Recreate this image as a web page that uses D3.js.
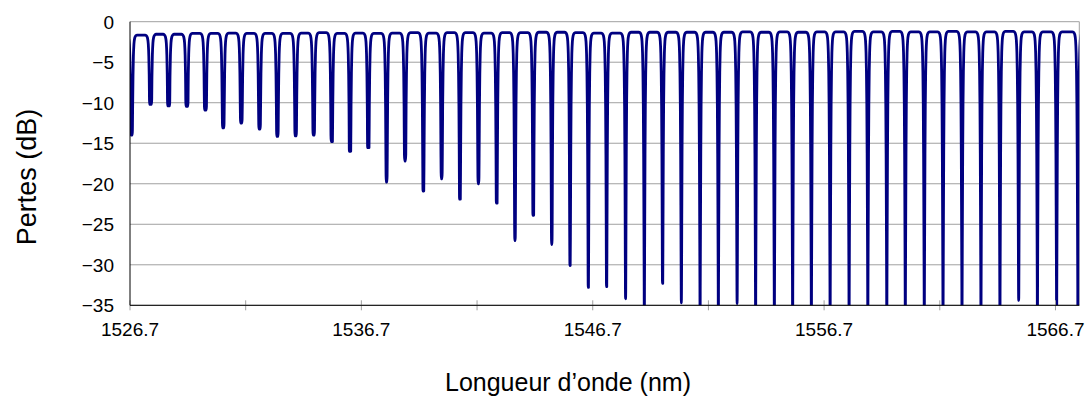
<!DOCTYPE html>
<html>
<head>
<meta charset="utf-8">
<script src="https://cdn.jsdelivr.net/npm/d3@7/dist/d3.min.js"></script>
<style>
  body { margin: 0; background: #fff; }
  svg { display: block; }
  text { font-family: Arial, "Liberation Sans", sans-serif; fill: #000; }
</style>
</head>
<body>
<svg id="chart" width="1088" height="397"></svg>
<script>
// Notch centre wavelengths (nm) of the comb filter
const notchCenters = [
  1526.77, 1527.59, 1528.37, 1529.16, 1529.96, 1530.73, 1531.51, 1532.30, 1533.07, 1533.86,
  1534.64, 1535.42, 1536.21, 1537.00, 1537.79, 1538.59, 1539.38, 1540.17, 1540.96, 1541.76,
  1542.55, 1543.34, 1544.13, 1544.93, 1545.72, 1546.51, 1547.30, 1548.12, 1548.93, 1549.72,
  1550.53, 1551.34, 1552.13, 1552.94, 1553.74, 1554.55, 1555.34, 1556.15, 1556.96, 1557.78,
  1558.59, 1559.41, 1560.21, 1561.03, 1561.84, 1562.66, 1563.48, 1564.30, 1565.11, 1565.92,
  1566.75, 1567.67
];
// Loss at the bottom of each notch (dB); notches deeper than the axis floor run past -35
const notchDepths = [
  -14.0, -10.2, -10.4, -10.45, -10.9, -13.1, -12.5, -13.25, -14.15, -14.1,
  -14.0, -14.8, -16.0, -15.55, -19.8, -17.2, -20.9, -19.4, -21.9, -20.0,
  -22.4, -27.0, -23.9, -27.5, -30.1, -32.8, -32.7, -34.2, -40.0, -32.3,
  -34.7, -40.0, -40.0, -34.8, -40.0, -40.0, -40.0, -40.0, -40.0, -40.0,
  -40.0, -40.0, -40.0, -40.0, -40.0, -40.0, -40.0, -40.0, -34.4, -40.0,
  -40.0, -40.0
];
// Pass-band loss between neighbouring notches (dB), one more than the notches
const passbandLevels = [
  -1.7, -1.65, -1.55, -1.55, -1.45, -1.45, -1.4, -1.45, -1.45, -1.45,
  -1.4, -1.35, -1.45, -1.4, -1.45, -1.4, -1.35, -1.4, -1.35, -1.35,
  -1.4, -1.35, -1.35, -1.3, -1.3, -1.35, -1.4, -1.4, -1.3, -1.3,
  -1.3, -1.3, -1.3, -1.3, -1.25, -1.3, -1.25, -1.3, -1.25, -1.25,
  -1.2, -1.25, -1.2, -1.25, -1.25, -1.2, -1.25, -1.25, -1.2, -1.25,
  -1.25, -1.25, -1.3
];
// Notch wall: distance from centre (nm) and extra loss below the pass band (dB)
const notchProfile = [
  [0.24, 0], [0.18, 0.08], [0.135, 0.35], [0.1, 1.1], [0.077, 2.6],
  [0.06, 5], [0.044, 9], [0.03, 15], [0.017, 24], [0.006, 32]
];

const xDomain = [1526.7, 1567.73];
const yDomain = [-35, 0];
const xTicks = [1526.7, 1531.7, 1536.7, 1541.7, 1546.7, 1551.7, 1556.7, 1561.7, 1566.7];
const xTickLabels = ["1526.7", "1536.7", "1546.7", "1556.7", "1566.7"];
const yTicks = [0, -5, -10, -15, -20, -25, -30, -35];

const margin = { left: 130, right: 8.7, top: 21.7, bottom: 91.7 };
const W = 1088, H = 397;
const svg = d3.select("#chart");

const x = d3.scaleLinear().domain(xDomain).range([margin.left, W - margin.right]);
const y = d3.scaleLinear().domain(yDomain).range([H - margin.bottom, margin.top]);

// Build the spectrum from notch positions, depths and pass-band levels
const spectrum = [];
spectrum.push([xDomain[0] - 0.5, passbandLevels[0]]);
notchCenters.forEach((c, i) => {
  const topL = passbandLevels[i], topR = passbandLevels[i + 1];
  const depth = notchDepths[i];
  notchProfile.forEach(([dx, drop]) => {
    spectrum.push([c - dx, Math.max(topL - drop, depth)]);
  });
  spectrum.push([c, depth]);
  notchProfile.slice().reverse().forEach(([dx, drop]) => {
    spectrum.push([c + dx, Math.max(topR - drop, depth)]);
  });
});
spectrum.push([xDomain[1] + 0.5, passbandLevels[passbandLevels.length - 1]]);

// Horizontal grid
svg.append("g")
  .selectAll("line")
  .data(yTicks)
  .join("line")
  .attr("x1", margin.left).attr("x2", W - margin.right)
  .attr("y1", d => y(d)).attr("y2", d => y(d))
  .attr("stroke", "#a0a0a0").attr("stroke-width", 1);

// Right frame edge
svg.append("line")
  .attr("x1", W - margin.right).attr("x2", W - margin.right)
  .attr("y1", margin.top).attr("y2", H - margin.bottom)
  .attr("stroke", "#a0a0a0").attr("stroke-width", 1);

// Clip the trace to the plot area
svg.append("clipPath").attr("id", "plotClip")
  .append("rect")
  .attr("x", margin.left).attr("y", margin.top)
  .attr("width", W - margin.left - margin.right)
  .attr("height", H - margin.top - margin.bottom);

const line = d3.line()
  .x(d => x(d[0]))
  .y(d => y(d[1]))
  .curve(d3.curveMonotoneX);

svg.append("path")
  .datum(spectrum)
  .attr("clip-path", "url(#plotClip)")
  .attr("fill", "none")
  .attr("stroke", "#000080")
  .attr("stroke-width", 2.8)
  .attr("stroke-linejoin", "round")
  .attr("d", line);

// X axis
const xAxis = svg.append("g").attr("transform", `translate(0,${H - margin.bottom})`);
xAxis.append("g")
  .selectAll("line")
  .data(xTicks)
  .join("line")
  .attr("x1", d => x(d)).attr("x2", d => x(d))
  .attr("y1", -5).attr("y2", 5)
  .attr("stroke", "#a0a0a0").attr("stroke-width", 1);
xAxis.append("line")
  .attr("x1", margin.left).attr("x2", W - margin.right)
  .attr("stroke", "#000").attr("stroke-width", 1);
xAxis.append("g")
  .selectAll("text")
  .data(xTickLabels)
  .join("text")
  .attr("x", d => x(+d))
  .attr("y", 31)
  .attr("text-anchor", "middle")
  .attr("font-size", 19)
  .text(d => d);

// Y axis
const yAxis = svg.append("g").attr("transform", `translate(${margin.left},0)`);
yAxis.append("line")
  .attr("y1", margin.top).attr("y2", H - margin.bottom)
  .attr("stroke", "#000").attr("stroke-width", 1);
yAxis.append("g")
  .selectAll("text")
  .data(yTicks)
  .join("text")
  .attr("x", -16)
  .attr("y", d => y(d))
  .attr("dy", "0.36em")
  .attr("text-anchor", "end")
  .attr("font-size", 19)
  .text(d => d3.format("d")(d));

// Axis titles
svg.append("text")
  .attr("x", 568).attr("y", 391)
  .attr("text-anchor", "middle")
  .attr("font-size", 25)
  .text("Longueur d\u2019onde (nm)");

svg.append("text")
  .attr("transform", "translate(36,177) rotate(-90)")
  .attr("text-anchor", "middle")
  .attr("font-size", 27)
  .text("Pertes (dB)");
</script>
</body>
</html>
